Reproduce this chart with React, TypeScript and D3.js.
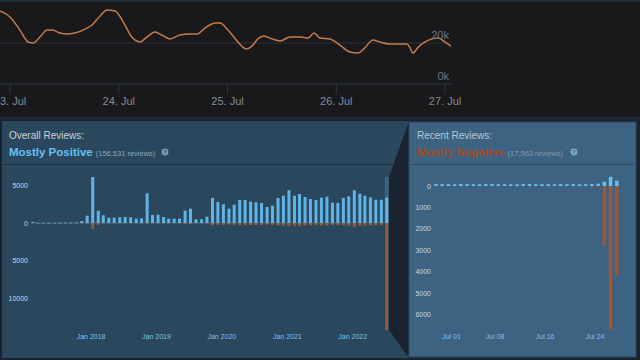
import React from "react";
import * as d3 from "d3";

// ---------- Top line chart (players) ----------
const lineHours = [-2.2, 0, 2.2, 4, 5.1, 6.6, 8.2, 9.3, 11, 12.6, 14.3, 16.6, 18.1, 19.9, 21.4, 23.2, 25, 26.9, 28.7, 30.2, 32, 33.5, 35.3, 37.5, 39.7, 41.3, 43, 45.3, 46.4, 48.1, 50.3, 52.1, 53.4, 54.7, 56, 57.8, 59.6, 61.8, 64, 65.8, 67.1, 68.4, 70.6, 72.8, 75, 76.8, 78.3, 80.1, 81.6, 83.8, 86, 87.6, 88.3, 88.9, 90.1, 91.6, 93.2, 94.5, 96, 97.3];
const lineValues = [35600, 32700, 26300, 20500, 20000, 22900, 26300, 26300, 24900, 24400, 24900, 26800, 28800, 33200, 36100, 35600, 30200, 22900, 20500, 22900, 25400, 23900, 22000, 23900, 24400, 24400, 27300, 29800, 29800, 26300, 20500, 17100, 18500, 22000, 23400, 22000, 21000, 22900, 22900, 22400, 24900, 22400, 22000, 19000, 15600, 15100, 17600, 21500, 20500, 19500, 19500, 19500, 17600, 15100, 18000, 20500, 22000, 22400, 20500, 18500];
const lineXTickLabels = ["23. Jul", "24. Jul", "25. Jul", "26. Jul", "27. Jul"];
const lineYTickValues = [0, 20000];
const lineYTickLabels = ["0k", "20k"];

// ---------- Overall reviews (monthly, Feb 2017 - Jul 2022) ----------
const overallPositive = [150, 30, 30, 30, 30, 30, 40, 60, 60, 250, 970, 6100, 1630, 1020, 700, 700, 750, 800, 750, 570, 620, 3940, 1060, 1100, 800, 570, 570, 570, 1630, 1900, 490, 490, 840, 3320, 2790, 2480, 1900, 2430, 3050, 3050, 2830, 2740, 2650, 2120, 2300, 3320, 3620, 4340, 3620, 3850, 3450, 3180, 3050, 3360, 3490, 2690, 2650, 3320, 3540, 4340, 3890, 3620, 3400, 3090, 3090, 3360];
const overallNegative = [-10, -5, -5, -5, -5, -5, -5, -10, -10, -40, -120, -800, -250, -80, -60, -60, -60, -70, -60, -50, -50, -150, -80, -80, -70, -50, -50, -50, -120, -150, -50, -50, -80, -300, -250, -230, -200, -230, -300, -300, -280, -260, -250, -220, -240, -320, -350, -420, -350, -380, -330, -300, -290, -320, -330, -260, -250, -320, -340, -570, -380, -350, -330, -300, -300, -14200];
const overallGhost = 6100; // faded column behind the last month
const overallYTickValues = [5000, 0, -5000, -10000];
const overallYTickLabels = ["5000", "0", "5000", "10000"];
const overallXTickLabels = ["Jan 2018", "Jan 2019", "Jan 2020", "Jan 2021", "Jan 2022"];

// ---------- Recent reviews (daily, Jun 28 - Jul 27) ----------
const recentPositive = [90, 80, 85, 80, 90, 85, 80, 80, 85, 90, 80, 85, 80, 80, 85, 90, 80, 80, 85, 80, 90, 80, 85, 80, 85, 90, 110, 200, 430, 250];
const recentNegative = [-15, -10, -15, -10, -15, -10, -10, -15, -10, -15, -10, -10, -15, -10, -10, -15, -10, -10, -15, -10, -15, -10, -10, -15, -10, -20, -30, -2790, -6700, -4160];
const recentYTickValues = [0, -1000, -2000, -3000, -4000, -5000, -6000];
const recentYTickLabels = ["0", "1000", "2000", "3000", "4000", "5000", "6000"];
const recentXTickLabels = ["Jul 01", "Jul 08", "Jul 16", "Jul 24"];

const POS = "#66c0f4";
const NEG = "#9a5834";
const FONT = "'Liberation Sans', Arial, sans-serif";

export default function App() {
  // top chart
  const t0 = new Date(2022, 6, 23);
  const xTop = d3.scaleTime().domain([t0, new Date(2022, 6, 27)]).range([10, 445]);
  const yTop = d3.scaleLinear().domain([0, 20000]).range([84, 43]);
  const linePts = lineHours.map((h, i) => [xTop(d3.timeMinute.offset(t0, Math.round(h * 60))), yTop(lineValues[i])] as [number, number]);
  const linePath = d3.line().curve(d3.curveMonotoneX)(linePts) || "";
  const topTicks = lineXTickLabels.map((_, i) => d3.timeDay.offset(t0, i));

  // overall chart
  const oStart = new Date(2017, 1, 1);
  const oMonths = overallPositive.map((_, i) => d3.timeMonth.offset(oStart, i));
  const xO = d3.scaleTime().domain([new Date(2018, 0, 1), new Date(2022, 0, 1)]).range([91.1, 352.7]);
  const yO = d3.scaleLinear().domain([0, 5000]).range([223, 185.3]);
  const oCenter = (d: Date) => xO(d3.timeDay.offset(d, 9));
  const oTicks = overallXTickLabels.map((_, i) => new Date(2018 + i, 0, 1));
  const bwO = 3;

  // recent chart
  const rStart = new Date(2022, 5, 28);
  const rDays = recentPositive.map((_, i) => d3.timeDay.offset(rStart, i));
  const xR = d3.scaleTime().domain([new Date(2022, 6, 1), new Date(2022, 6, 24)]).range([451.5, 595]);
  const yR = d3.scaleLinear().domain([0, -6000]).range([186, 314.4]);
  const rCenter = (d: Date) => xR(d3.timeHour.offset(d, 12));
  const rTicks = [new Date(2022, 6, 1), new Date(2022, 6, 8), new Date(2022, 6, 16), new Date(2022, 6, 24)];
  const bwR = 3.5;

  const lastM = oMonths[oMonths.length - 1];

  return (
    <svg width={640} height={360} style={{ position: "absolute", left: 0, top: 0 }} fontFamily={FONT}>
      <rect x={0} y={0} width={640} height={360} fill="#1a2330" />
      {/* top chart */}
      <rect x={0} y={0} width={640} height={118} fill="#19191b" />
      <rect x={0} y={0} width={640} height={2} fill="#1f2c3b" />
      <rect x={0} y={117} width={640} height={2} fill="#1f2c3b" />
      <line x1={0} x2={452} y1={yTop(20000)} y2={yTop(20000)} stroke="#29333e" strokeWidth={1} />
      <line x1={0} x2={452} y1={yTop(0)} y2={yTop(0)} stroke="#2a3746" strokeWidth={1} />
      {topTicks.map((d, i) => (
        <g key={i}>
          <line x1={xTop(d)} x2={xTop(d)} y1={yTop(0)} y2={yTop(0) + 10} stroke="#2a3746" strokeWidth={1} />
          <text x={xTop(d)} y={105} textAnchor="middle" fontSize={11} fill="#7f8c98">{lineXTickLabels[i]}</text>
        </g>
      ))}
      <path d={linePath} fill="none" stroke="#c57c48" strokeWidth={1.5} />
      {lineYTickValues.map((v, i) => (
        <text key={i} x={449} y={yTop(v) - 4} textAnchor="end" fontSize={11} fill="#6b7884">{lineYTickLabels[i]}</text>
      ))}

      {/* overall panel */}
      <polygon points="2,121 409,121 389,177 389,330 409,358 2,358" fill="#2a475e" />
      <line x1={3} x2={394} y1={164.5} y2={164.5} stroke="#1d3345" strokeWidth={1} />
      <text x={9} y={139} fontSize={10} fill="#c6d4df">Overall Reviews:</text>
      <text x={9} y={155.5} fontSize={11.5} fontWeight="bold" fill="#66c0f4">Mostly Positive
        <tspan fontSize={7.5} fontWeight="normal" fill="#8ba6b6" dx={3}>(156,531 reviews)</tspan>
      </text>
      <circle cx={165} cy={152} r={3.4} fill="#7f9bb0" />
      <text x={165} y={154.3} textAnchor="middle" fontSize={5.5} fontWeight="bold" fill="#2a475e">?</text>

      <rect x={oCenter(lastM) - 2} y={yO(overallGhost)} width={4} height={yO(0) - yO(overallGhost)} fill="#3e6a8a" opacity={0.8} />
      <line x1={30} x2={389} y1={yO(0)} y2={yO(0)} stroke="#4f86ad" strokeWidth={0.8} opacity={0.7} />
      {oMonths.map((d, i) => (
        <g key={i}>
          <rect x={oCenter(d) - bwO / 2} y={yO(overallPositive[i])} width={bwO} height={Math.max(0.8, yO(0) - yO(overallPositive[i]))} fill={POS} opacity={0.9} />
          <rect x={oCenter(d) - bwO / 2} y={yO(0)} width={bwO} height={Math.max(0.3, yO(overallNegative[i]) - yO(0))} fill={NEG} />
        </g>
      ))}
      {overallYTickValues.map((v, i) => (
        <text key={i} x={28} y={yO(v) + 2.5} textAnchor="end" fontSize={7} fill="#c4d8e8">{overallYTickLabels[i]}</text>
      ))}
      {oTicks.map((d, i) => (
        <text key={i} x={xO(d)} y={339} textAnchor="middle" fontSize={7} fill="#7fc0ec">{overallXTickLabels[i]}</text>
      ))}

      {/* recent panel */}
      <rect x={409} y={122} width={227} height={235} fill="#3e6282" stroke="#2c4a62" strokeWidth={1} />
      <line x1={410} x2={635} y1={164.5} y2={164.5} stroke="#2e4c64" strokeWidth={1} />
      <text x={417} y={139} fontSize={10} fill="#b3c9da">Recent Reviews:</text>
      <text x={417} y={155.5} fontSize={11.5} fontWeight="bold" fill="#a34c25">Mostly Negative
        <tspan fontSize={7.5} fontWeight="normal" fill="#7f9cb3" dx={3}>(17,963 reviews)</tspan>
      </text>
      <circle cx={574} cy={152} r={3.4} fill="#7fa6c4" />
      <text x={574} y={154.3} textAnchor="middle" fontSize={5.5} fontWeight="bold" fill="#3e6282">?</text>

      {rDays.map((d, i) => (
        <g key={i}>
          <rect x={rCenter(d) - bwR / 2} y={yR(recentPositive[i])} width={bwR} height={yR(0) - yR(recentPositive[i])} fill={POS} />
          <rect x={rCenter(d) - bwR / 2} y={yR(0)} width={bwR} height={yR(recentNegative[i]) - yR(0)} fill={NEG} />
        </g>
      ))}
      {recentYTickValues.map((v, i) => (
        <text key={i} x={431} y={yR(v) + 2.5} textAnchor="end" fontSize={7} fill="#c4d8e8">{recentYTickLabels[i]}</text>
      ))}
      {rTicks.map((d, i) => (
        <text key={i} x={xR(d)} y={339} textAnchor="middle" fontSize={7} fill="#7fc0ec">{recentXTickLabels[i]}</text>
      ))}
    </svg>
  );
}
